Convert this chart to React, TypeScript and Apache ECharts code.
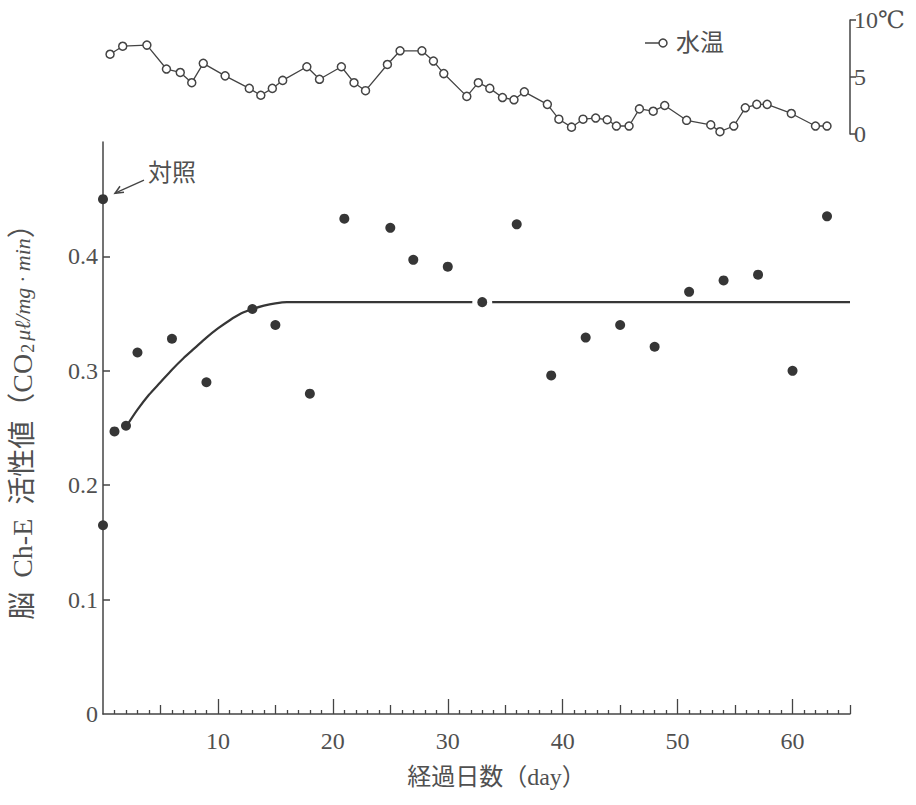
import { useEffect, useRef } from "react";
import * as echarts from "echarts";

// Brain Ch-E activity (CO2 µl/mg·min) by elapsed day
const controlDay = 0;
const controlValue = 0.45;
const activityDays = [0, 1, 2, 3, 6, 9, 13, 15, 18, 21, 25, 27, 30, 33, 36, 39, 42, 45, 48, 51, 54, 57, 60, 63];
const activityValues = [
  0.165, 0.247, 0.252, 0.316, 0.328, 0.29, 0.354, 0.34, 0.28, 0.433, 0.425, 0.397,
  0.391, 0.36, 0.428, 0.296, 0.329, 0.34, 0.321, 0.369, 0.379, 0.384, 0.3, 0.435,
];
// points that sit on the plateau line and are printed with a white ring
const ringedDays = [33];

// fitted recovery curve, traced along its length
const fitDays = [2.2, 3, 4, 5, 6, 7, 8, 9, 10, 11, 12, 13, 14, 15, 16, 65];
const fitValues = [
  0.254, 0.266, 0.279, 0.29, 0.301, 0.311, 0.32, 0.329, 0.337, 0.344, 0.35, 0.354,
  0.357, 0.359, 0.36, 0.36,
];

// water temperature (°C)
const tempDays = [
  0.7, 1.8, 3.9, 5.6, 6.8, 7.8, 8.8, 10.7, 12.8, 13.8, 14.8, 15.7, 17.8, 18.9, 20.8,
  21.9, 22.9, 24.8, 25.9, 27.8, 28.8, 29.7, 31.7, 32.7, 33.7, 34.8, 35.8, 36.7, 38.7,
  39.7, 40.8, 41.8, 42.9, 43.9, 44.7, 45.8, 46.7, 47.9, 48.9, 50.8, 52.9, 53.7, 54.9,
  55.9, 56.9, 57.8, 59.9, 62.0, 63.0,
];
const tempValues = [
  7.0, 7.7, 7.8, 5.7, 5.4, 4.5, 6.2, 5.1, 4.0, 3.4, 4.0, 4.7, 5.9, 4.8, 5.9,
  4.5, 3.8, 6.1, 7.3, 7.3, 6.4, 5.3, 3.3, 4.5, 4.0, 3.2, 3.0, 3.7, 2.6,
  1.3, 0.6, 1.3, 1.4, 1.25, 0.7, 0.7, 2.2, 2.0, 2.5, 1.2, 0.8, 0.2, 0.7,
  2.3, 2.6, 2.6, 1.8, 0.7, 0.7,
];

// axis ticks
const dayMajorTicks = [10, 20, 30, 40, 50, 60];
const dayMidTicks = [5, 15, 25, 35, 45, 55, 65];
const dayMinorTicks: number[] = [];
for (let d = 1; d < 65; d++) if (d % 5 !== 0) dayMinorTicks.push(d);
const activityTicks = [0.1, 0.2, 0.3, 0.4];
const activityLabels = [0, 0.1, 0.2, 0.3, 0.4];

const INK = "#363636";
const LINE = "#444";
const TEXT = "#505050";
const NUM_FONT = '"Liberation Serif", "DejaVu Serif", serif';
const CJK_FONT = '"Liberation Serif", "Noto Sans CJK JP", sans-serif';

export default function App() {
  const ref = useRef<HTMLDivElement>(null);

  useEffect(() => {
    if (!ref.current) return;
    const chart = echarts.init(ref.current, null, { renderer: "svg" });

    const scatterData: any[] = [[controlDay, controlValue]];
    activityDays.forEach((d, i) => {
      if (ringedDays.includes(d)) {
        scatterData.push({
          value: [d, activityValues[i]],
          symbolSize: 15,
          itemStyle: { borderColor: "#fff", borderWidth: 5 },
        });
      } else {
        scatterData.push([d, activityValues[i]]);
      }
    });

    const tickAxis = (values: number[], length: number, extra: any = {}) => ({
      type: "value",
      gridIndex: 0,
      position: "bottom",
      min: 0,
      max: 65,
      axisLine: { show: false },
      axisTick: {
        show: true,
        inside: true,
        length,
        customValues: values,
        lineStyle: { color: LINE, width: 1.3 },
      },
      axisLabel: { show: false },
      splitLine: { show: false },
      ...extra,
    });

    chart.setOption({
      animation: false,
      backgroundColor: "#fff",
      grid: [
        { left: 102, right: 66, top: 142, bottom: 91 },
        { left: 102, right: 66, top: 20, height: 114 },
      ],
      xAxis: [
        tickAxis(dayMajorTicks, 15, {
          axisLine: { show: true, onZero: false, lineStyle: { color: LINE, width: 1.5 } },
          axisLabel: {
            show: true,
            customValues: dayMajorTicks,
            margin: 15,
            color: TEXT,
            fontFamily: NUM_FONT,
            fontSize: 24,
          },
          name: "経過日数（day）",
          nameLocation: "middle",
          nameGap: 51,
          nameTextStyle: {
            color: TEXT,
            fontFamily: CJK_FONT,
            fontSize: 24,
            padding: [0, 0, 0, 40],
          },
        }),
        tickAxis(dayMidTicks, 9),
        tickAxis(dayMinorTicks, 4),
        { type: "value", gridIndex: 1, min: 0, max: 65, show: false },
      ],
      yAxis: [
        {
          type: "value",
          gridIndex: 0,
          min: 0,
          max: 0.5,
          axisLine: { show: true, onZero: false, lineStyle: { color: LINE, width: 1.5 } },
          axisTick: {
            show: true,
            inside: true,
            length: 7,
            customValues: activityTicks,
            lineStyle: { color: LINE, width: 1.5 },
          },
          axisLabel: {
            customValues: activityLabels,
            formatter: (v: number) => (v === 0 ? "0" : v.toFixed(1)),
            margin: 5,
            color: TEXT,
            fontFamily: NUM_FONT,
            fontSize: 24,
          },
          splitLine: { show: false },
          name: "{a|脳  Ch-E  活性値（CO}{s|2}{b|μℓ/mg · min}{a|）}",
          nameLocation: "middle",
          nameRotate: 90,
          nameGap: 66,
          nameTextStyle: {
            color: TEXT,
            padding: [0, 0, 0, 26],
            rich: {
              a: { fontFamily: CJK_FONT, fontSize: 28, color: TEXT, lineHeight: 30 },
              s: { fontFamily: NUM_FONT, fontSize: 18, color: TEXT, lineHeight: 30, verticalAlign: "bottom", padding: [10, 3, 0, 1] },
              b: { fontFamily: NUM_FONT, fontSize: 22, fontStyle: "italic", color: TEXT, lineHeight: 30 },
            },
          },
        },
        {
          type: "value",
          gridIndex: 1,
          position: "right",
          min: 0,
          max: 10,
          interval: 5,
          axisLine: { show: true, onZero: false, lineStyle: { color: LINE, width: 1.5 } },
          axisTick: { show: true, inside: false, length: 6, lineStyle: { color: LINE, width: 1.5 } },
          axisLabel: {
            formatter: (v: number) => (v === 10 ? "10℃" : String(v)),
            margin: 4,
            color: TEXT,
            fontFamily: NUM_FONT,
            fontSize: 24,
          },
          splitLine: { show: false },
        },
      ],
      series: [
        {
          type: "line",
          xAxisIndex: 0,
          yAxisIndex: 0,
          data: fitDays.map((d, i) => [d, fitValues[i]]),
          smooth: 0.3,
          showSymbol: false,
          lineStyle: { color: INK, width: 2.2 },
          z: 2,
        },
        {
          type: "scatter",
          xAxisIndex: 0,
          yAxisIndex: 0,
          data: scatterData,
          symbolSize: 10,
          itemStyle: { color: INK, opacity: 1 },
          z: 3,
        },
        {
          name: "水温",
          type: "line",
          xAxisIndex: 3,
          yAxisIndex: 1,
          data: tempDays.map((d, i) => [d, tempValues[i]]),
          symbol: "circle",
          symbolSize: 8,
          showAllSymbol: true,
          lineStyle: { color: LINE, width: 1.3 },
          itemStyle: { color: "#fff", borderColor: LINE, borderWidth: 1.5, opacity: 1 },
          z: 3,
        },
      ],
    });

    // control-point annotation and water temperature key
    const [cx, cy] = chart.convertToPixel({ xAxisIndex: 0, yAxisIndex: 0 }, [controlDay, controlValue]) as number[];
    const tipX = cx + 12;
    const tipY = cy - 6;
    chart.setOption({
      graphic: [
        {
          type: "line",
          shape: { x1: cx + 41, y1: cy - 19, x2: tipX, y2: tipY },
          style: { stroke: LINE, lineWidth: 1.3 },
        },
        {
          type: "polyline",
          shape: { points: [[tipX + 9, tipY - 1], [tipX, tipY], [tipX + 5, tipY - 7]] },
          style: { stroke: LINE, lineWidth: 1.5, fill: "none" },
        },
        {
          type: "text",
          x: cx + 45,
          y: cy - 26,
          style: { text: "対照", font: `24px ${CJK_FONT}`, fill: TEXT, textVerticalAlign: "middle" },
        },
        {
          type: "line",
          shape: { x1: 645, y1: 43, x2: 659, y2: 43 },
          style: { stroke: LINE, lineWidth: 1.5 },
        },
        {
          type: "circle",
          shape: { cx: 663, cy: 43, r: 4 },
          style: { stroke: LINE, lineWidth: 1.5, fill: "#fff" },
        },
        {
          type: "text",
          x: 676,
          y: 43,
          style: { text: "水温", font: `24px ${CJK_FONT}`, fill: TEXT, textVerticalAlign: "middle" },
        },
      ],
    });

    return () => chart.dispose();
  }, []);

  return (
    <div
      ref={ref}
      style={{ position: "fixed", left: 0, top: 0, width: 916, height: 805 }}
    />
  );
}
